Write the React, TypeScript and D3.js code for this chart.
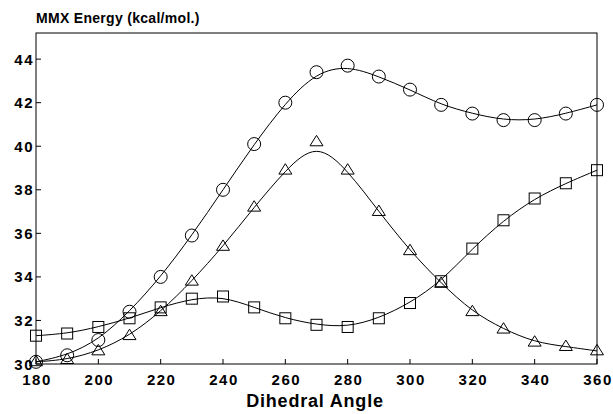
import React from 'react';
import * as d3 from 'd3';

const angles = [180, 190, 200, 210, 220, 230, 240, 250, 260, 270, 280, 290, 300, 310, 320, 330, 340, 350, 360];
const circleSeries = [30.1, 30.4, 31.1, 32.4, 34.0, 35.9, 38.0, 40.1, 42.0, 43.4, 43.7, 43.2, 42.6, 41.9, 41.5, 41.2, 41.2, 41.5, 41.9];
const triangleSeries = [30.1, 30.2, 30.6, 31.3, 32.4, 33.8, 35.4, 37.2, 38.9, 40.2, 38.9, 37.0, 35.2, 33.7, 32.4, 31.6, 31.0, 30.8, 30.6];
const squareSeries = [31.3, 31.4, 31.7, 32.1, 32.6, 33.0, 33.1, 32.6, 32.1, 31.8, 31.7, 32.1, 32.8, 33.8, 35.3, 36.6, 37.6, 38.3, 38.9];
const xTicks = [180, 200, 220, 240, 260, 280, 300, 320, 340, 360];
const yTicks = [30, 32, 34, 36, 38, 40, 42, 44];

const W = 613, H = 414;
const left = 36, right = 597, top = 33, bottom = 364;
const font = '"Liberation Sans", Arial, sans-serif';

export default function App() {
  const x = d3.scaleLinear().domain([180, 360]).range([left, right]);
  const y = d3.scaleLinear().domain([30, 45.2]).range([bottom, top]);

  const line = d3
    .line<number>()
    .x((_, i) => x(angles[i]))
    .y((d) => y(d))
    .curve(d3.curveBasis);

  const series = [
    { vals: circleSeries, shape: 'circle' },
    { vals: triangleSeries, shape: 'triangle' },
    { vals: squareSeries, shape: 'square' },
  ];

  const marker = (shape: string, cx: number, cy: number, key: string) => {
    if (shape === 'circle') {
      return <circle key={key} cx={cx} cy={cy} r={6.5} fill="none" stroke="#000" strokeWidth={1} />;
    }
    if (shape === 'triangle') {
      const s = 6.5;
      const pts = `${cx},${cy - s} ${cx - s},${cy + s * 0.6} ${cx + s},${cy + s * 0.6}`;
      return <polygon key={key} points={pts} fill="none" stroke="#000" strokeWidth={1} />;
    }
    return <rect key={key} x={cx - 5.5} y={cy - 5.5} width={11} height={11} fill="none" stroke="#000" strokeWidth={1} />;
  };

  return (
    <svg width={W} height={H} style={{ position: 'absolute', left: 0, top: 0, background: '#fff' }}>
      <text x={36} y={23} fontFamily={font} fontWeight="bold" fontSize={14} letterSpacing={0.3} fill="#000">
        MMX Energy (kcal/mol.)
      </text>

      {/* frame */}
      <rect x={left} y={top} width={right - left} height={bottom - top} fill="none" stroke="#000" strokeWidth={1} />

      {/* y ticks */}
      {yTicks.map((t) => (
        <g key={'y' + t}>
          <line x1={left} x2={left + 5} y1={y(t)} y2={y(t)} stroke="#000" strokeWidth={1} />
          <text x={left - 2} y={y(t) + 5.5} textAnchor="end" fontFamily={font} fontWeight="bold" fontSize={15} letterSpacing={1.5} fill="#000">
            {t}
          </text>
        </g>
      ))}

      {/* x ticks */}
      {xTicks.map((t) => (
        <g key={'x' + t}>
          <line x1={x(t)} x2={x(t)} y1={bottom} y2={bottom - 5} stroke="#000" strokeWidth={1} />
          <text x={x(t) + 1} y={385} textAnchor="middle" fontFamily={font} fontWeight="bold" fontSize={15} letterSpacing={1.5} fill="#000">
            {t}
          </text>
        </g>
      ))}

      <text x={315} y={407} textAnchor="middle" fontFamily={font} fontWeight="bold" fontSize={18} letterSpacing={0.8} fill="#000">
        Dihedral Angle
      </text>

      {series.map((s) => (
        <g key={s.shape}>
          <path d={line(s.vals) || ''} fill="none" stroke="#000" strokeWidth={1} />
          {s.vals.map((v, i) => marker(s.shape, x(angles[i]), y(v), s.shape + i))}
        </g>
      ))}
    </svg>
  );
}
